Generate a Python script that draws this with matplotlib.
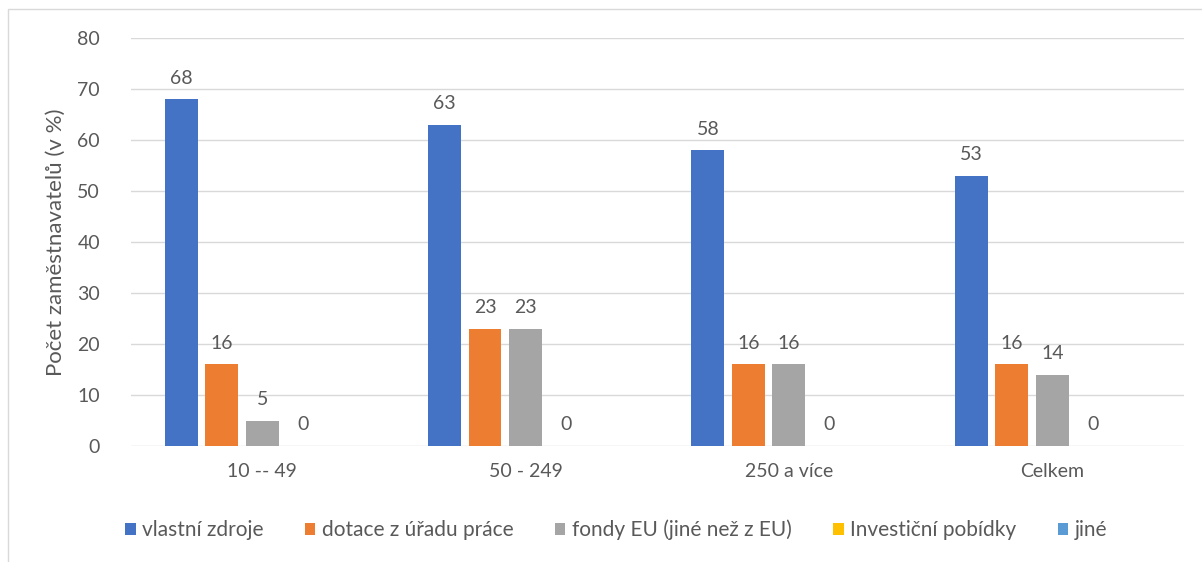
import numpy as np
import matplotlib
matplotlib.use('Agg')
import matplotlib.pyplot as plt
from matplotlib.patches import Rectangle

plt.rcParams['font.family'] = ['Lato', 'DejaVu Sans']

# data
categories = ['10 -- 49', '50 - 249', '250 a více', 'Celkem']
series_names = ['vlastní zdroje', 'dotace z úřadu práce', 'fondy EU (jiné než z EU)',
                'Investiční pobídky', 'jiné']
vlastni = [68, 63, 58, 53]
dotace = [16, 23, 16, 16]
fondy_eu = [5, 23, 16, 14]
investicni = [0, 0, 0, 0]
jine = [None, None, None, None]
all_series = [vlastni, dotace, fondy_eu, investicni, jine]
colors = ['#4472C4', '#ED7D31', '#A5A5A5', '#FFC000', '#5B9BD5']

text_col = '#595959'

fig = plt.figure(figsize=(12.02, 5.62), dpi=100)
# chart border like in excel
fig.patches.append(Rectangle((8 / 1202, -0.1), 1.2, 1 - 9 / 562 + 0.1,
                             transform=fig.transFigure, fill=False,
                             edgecolor='#d9d9d9', linewidth=1))

ax = fig.add_axes([130.5 / 1202, 1 - 446 / 562, (1184 - 130.5) / 1202, (446 - 38) / 562])

x = np.arange(len(categories))
width = 0.125
step = 0.154
for i, (vals, name, c) in enumerate(zip(all_series, series_names, colors)):
    pos = x + (i - 2) * step
    h = [v if v is not None else 0 for v in vals]
    bars = ax.bar(pos, h, width, color=c, label=name)
    for p, v in zip(pos, vals):
        if v is None:
            continue
        ax.annotate(str(v), (p, v), xytext=(0, 9), textcoords='offset points',
                    ha='center', va='bottom', fontsize=14, color=text_col)

ax.set_ylim(0, 80)
ax.set_xlim(-0.5, len(categories) - 0.5)
ax.set_yticks(range(0, 81, 10))
ax.set_xticks(x)
ax.set_xticklabels(categories)
ax.tick_params(length=0, labelsize=14, labelcolor=text_col)
ax.tick_params(axis='x', pad=12)
ax.tick_params(axis='y', pad=22)
ax.grid(axis='y', color='#d9d9d9', linewidth=1)
ax.set_axisbelow(True)
for s in ax.spines.values():
    s.set_visible(False)

ax.set_ylabel('Počet zaměstnavatelů (v %)', fontsize=16, color=text_col, labelpad=8)

fig.legend(loc='center', bbox_to_anchor=(616 / 1202, 1 - 530 / 562), ncol=5, frameon=False,
           fontsize=15, handlelength=0.5, handleheight=0.5, handletextpad=0.3,
           columnspacing=2.0, labelcolor=text_col)

fig.savefig('out.png', dpi=100)
